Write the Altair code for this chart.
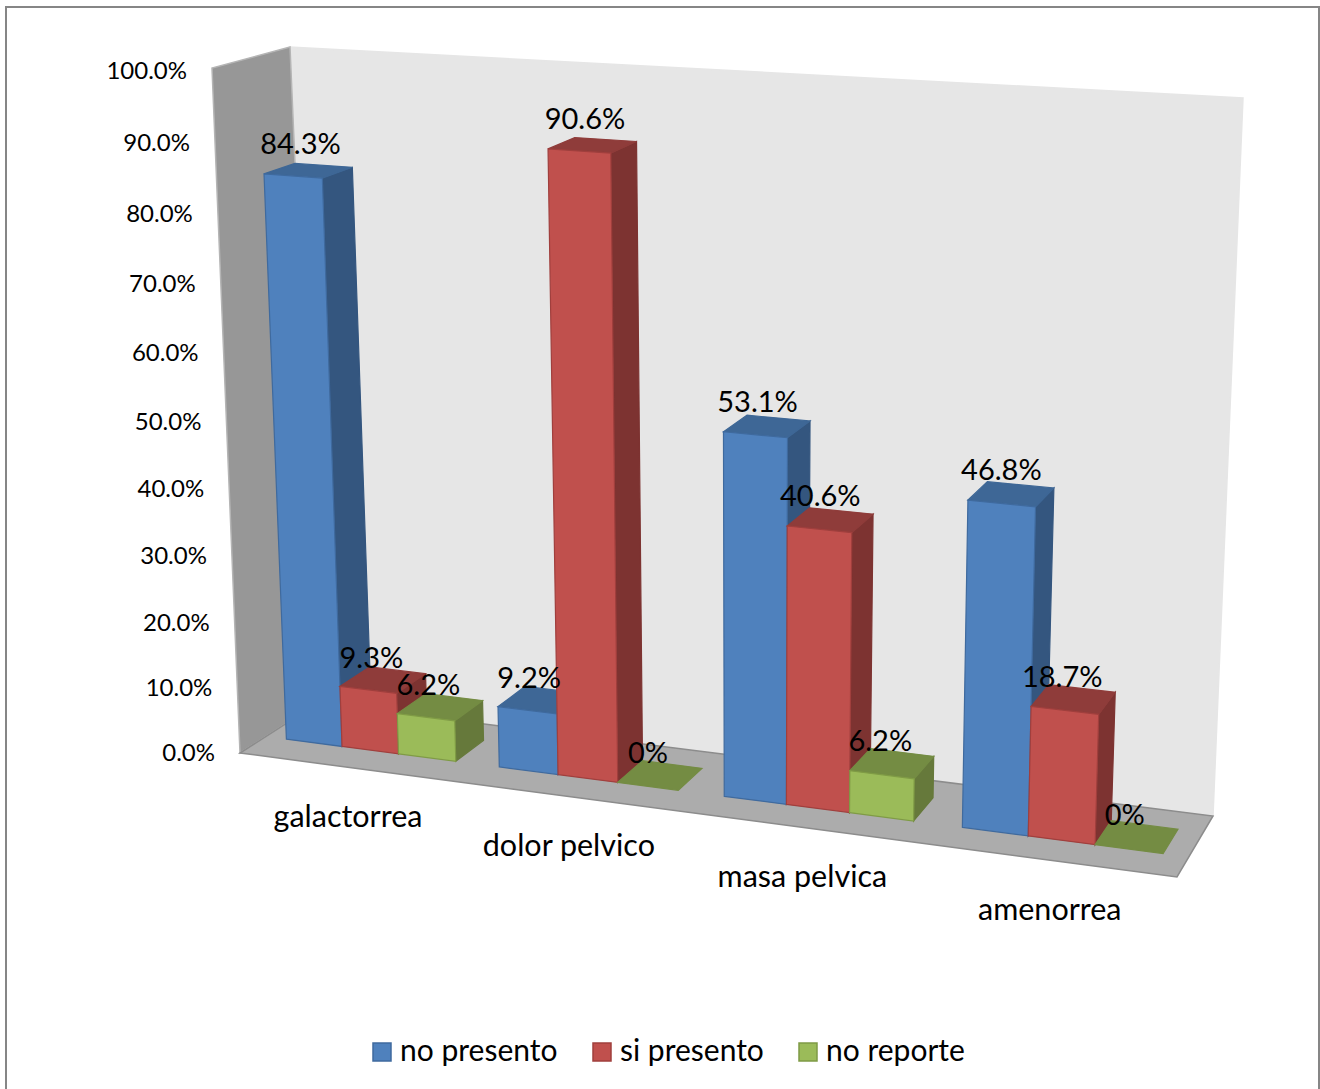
import altair as alt

# Chart values
categories = ["galactorrea", "dolor pelvico", "masa pelvica", "amenorrea"]
series = ["no presento", "si presento", "no reporte"]
no_presento = [84.3, 9.2, 53.1, 46.8]
si_presento = [9.3, 90.6, 40.6, 18.7]
no_reporte = [6.2, 0, 6.2, 0]
value_labels = [["84.3%", "9.3%", "6.2%"], ["9.2%", "90.6%", "0%"],
                ["53.1%", "40.6%", "6.2%"], ["46.8%", "18.7%", "0%"]]
axis_ticks = [0, 10, 20, 30, 40, 50, 60, 70, 80, 90, 100]

# Colours: front, side, top, edge
shades = {
    "no presento": ("#4F81BD", "#34567F", "#3E6796", "#3F6A9E"),
    "si presento": ("#C0504D", "#7D3331", "#8F3C3A", "#A03F3D"),
    "no reporte": ("#9BBB59", "#66793B", "#748C43", "#7F9B45"),
}

# Page position of the eight corners of the chart box, keyed (right, back, top)
box_corners = {
    (0, 0, 0): (240, 753), (0, 0, 1): (212, 68),
    (0, 1, 0): (318, 703), (0, 1, 1): (290, 47),
    (1, 1, 0): (1213, 816), (1, 1, 1): (1243, 98),
    (1, 0, 0): (1177, 877), (1, 0, 1): (1200, 133),
}
FORESHORTEN_U = 1.12
FORESHORTEN_V = 1.058


def project(u, w, v):
    # Foreshorten along width and height, then blend the box corners
    a = u / (u + FORESHORTEN_U * (1 - u))
    c = v / (v + FORESHORTEN_V * (1 - v))
    x = y = 0.0
    for (i, j, k), (px, py) in box_corners.items():
        weight = (a if i else 1 - a) * (w if j else 1 - w) * (c if k else 1 - c)
        x += weight * px
        y += weight * py
    return [x, y]


def face(points, key, fill, edge):
    ring = [project(*p) for p in points]
    ring.append(ring[0])
    return {
        "type": "Feature",
        "geometry": {"type": "Polygon", "coordinates": [ring]},
        "properties": {"key": key, "fill": fill, "edge": edge},
    }


GAP = 0.2
DEPTH_FRONT, DEPTH_BACK = 0.33, 0.73
STEP = 1 / len(categories)
BAR = STEP * (1 - GAP) / len(series)

bar_faces, label_rows = [], []
for i, cat in enumerate(categories):
    values = [no_presento[i], si_presento[i], no_reporte[i]]
    for j, name in enumerate(series):
        h = values[j] / 100
        u0 = STEP * (i + GAP / 2) + BAR * j
        u1 = u0 + BAR
        w0, w1 = DEPTH_FRONT, DEPTH_BACK
        front, side, top, edge = shades[name]
        if h > 0:
            bar_faces.append(face([(u1, w0, 0), (u1, w1, 0), (u1, w1, h), (u1, w0, h)],
                                  name + " side", side, side))
        bar_faces.append(face([(u0, w0, h), (u1, w0, h), (u1, w1, h), (u0, w1, h)],
                              name + " top", top, top))
        if h > 0:
            bar_faces.append(face([(u0, w0, 0), (u1, w0, 0), (u1, w0, h), (u0, w0, h)],
                                  name, front, edge))
        cx, cy = project((u0 + u1) / 2, (w0 + w1) / 2, h)
        label_rows.append({"px": cx - 12 + 5 * h, "py": cy - 21 - 5 * h, "t": value_labels[i][j]})

walls = [
    face([(0, 1, 0), (1, 1, 0), (1, 1, 1), (0, 1, 1)], "back", "#E6E6E6", "#E6E6E6"),
    face([(0, 0, 0), (0, 1, 0), (0, 1, 1), (0, 0, 1)], "left", "#979797", "#B5B5B5"),
    face([(0, 0, 0), (1, 0, 0), (1, 1, 0), (0, 1, 0)], "floor", "#ACACAC", "#8C8C8C"),
]

tick_rows = []
for t in axis_ticks:
    px, py = project(0, 0, t / 100)
    tick_rows.append({"px": px - 25, "py": py + 1 + 3 * t / 100, "t": f"{t:.1f}%"})

cat_rows = []
for i, cat in enumerate(categories):
    px, py = project(STEP * (i + 0.5), 0, 0)
    cat_rows.append({"px": px + 2, "py": py + 51, "t": cat})

identity = dict(type="identity", scale=1, translate=[0, 0])

wall_layer = (
    alt.Chart(alt.Data(values=walls))
    .mark_geoshape(strokeWidth=1.5)
    .encode(fill=alt.Fill("properties.fill:N", scale=None),
            stroke=alt.Stroke("properties.edge:N", scale=None))
    .project(**identity)
)

domain, fill_range, edge_range = [], [], []
for name in series:
    front, side, top, edge = shades[name]
    domain += [name, name + " side", name + " top"]
    fill_range += [front, side, top]
    edge_range += [edge, side, top]

legend = alt.Legend(
    values=series, title=None, orient="none", direction="horizontal",
    legendX=367, legendY=1037, columns=3, gridAlign="each",
    symbolType="square", symbolSize=324, symbolStrokeWidth=1.5,
    labelFont="Lato", labelFontSize=30, labelColor="#000000",
    labelOffset=3, columnPadding=29, symbolOffset=0,
)

bar_layer = (
    alt.Chart(alt.Data(values=bar_faces))
    .mark_geoshape(strokeWidth=1.2)
    .encode(
        color=alt.Color("properties.key:N",
                        scale=alt.Scale(domain=domain, range=fill_range), legend=legend),
        stroke=alt.Stroke("properties.key:N",
                          scale=alt.Scale(domain=domain, range=edge_range), legend=legend),
    )
    .project(**identity)
)


def text_layer(rows, size, align="center"):
    return (
        alt.Chart(alt.Data(values=rows))
        .mark_text(font="Lato", fontSize=size, align=align, baseline="middle", color="#000000")
        .encode(x=alt.X("px:Q", scale=None, axis=None),
                y=alt.Y("py:Q", scale=None, axis=None),
                text="t:N")
    )


# Outer frame of the chart area
frame = (
    alt.Chart(alt.Data(values=[{"x0": 6, "x1": 1319, "y0": 7, "y1": 1100}]))
    .mark_rect(fill="#FFFFFF", stroke="#868686", strokeWidth=2)
    .encode(x=alt.X("x0:Q", scale=None, axis=None), x2="x1:Q",
            y=alt.Y("y0:Q", scale=None, axis=None), y2="y1:Q")
)

chart = (
    alt.layer(frame, wall_layer, bar_layer,
              text_layer(tick_rows, 24, "right"),
              text_layer(cat_rows, 30.5),
              text_layer(label_rows, 29))
    .properties(width=1320, height=1089, padding=0, autosize="none", background="#FFFFFF")
    .configure_view(stroke=None)
)

chart.save("out.html", embed_options={"renderer": "svg", "actions": False})
